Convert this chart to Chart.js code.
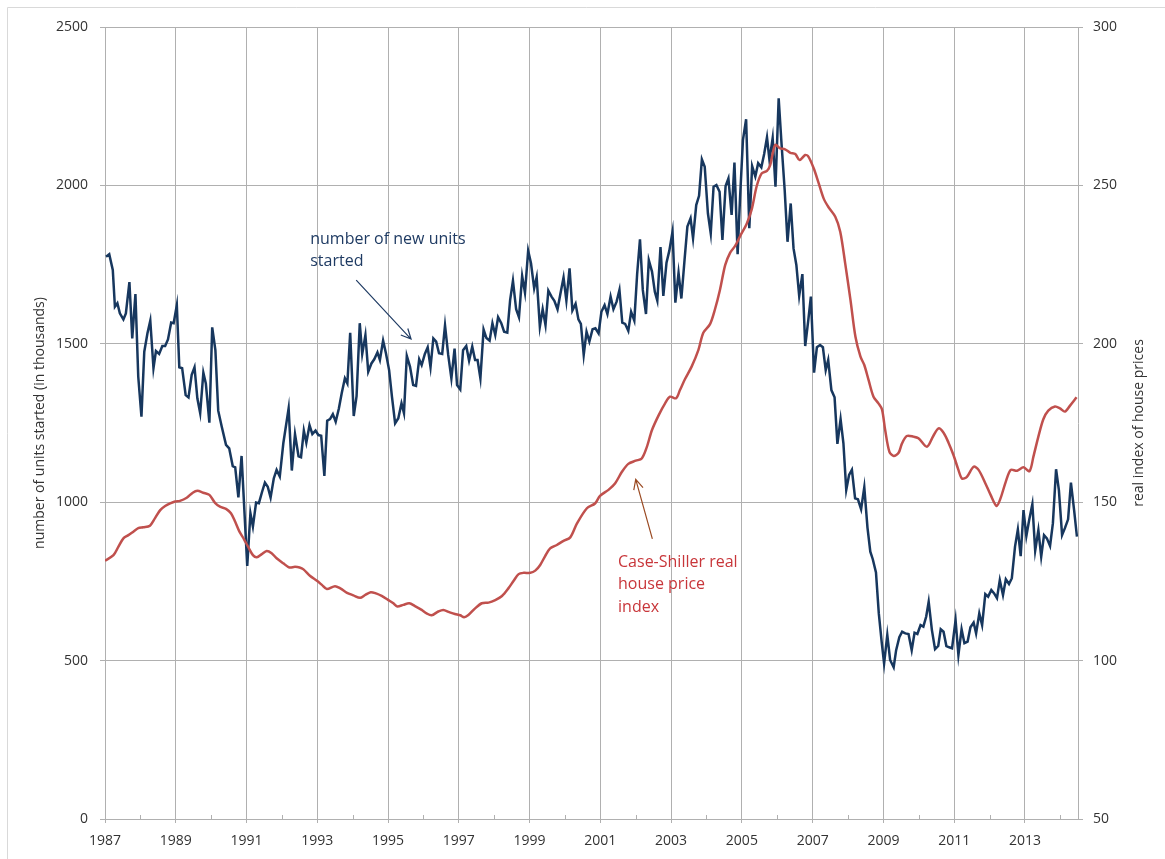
<!DOCTYPE html>
<html>
<head>
<meta charset="utf-8">
<script src="https://cdn.jsdelivr.net/npm/chart.js@4.4.1/dist/chart.umd.min.js"></script>
<style>
  html, body { margin: 0; padding: 0; background: #fff; overflow: hidden; }
  canvas { display: block; }
</style>
</head>
<body>
<canvas id="chart" width="1165" height="859"></canvas>
<script>
// housing starts, thousands of units (roughly monthly)
const startsYears = [
  1987.03,1987.12,1987.22,1987.28,1987.35,1987.42,1987.52,1987.59,1987.69,1987.77,1987.86,1987.94,
  1988.03,1988.11,1988.2,1988.28,1988.37,1988.44,1988.53,1988.62,1988.7,1988.78,1988.87,1988.94,
  1989.03,1989.1,1989.18,1989.28,1989.36,1989.45,1989.53,1989.61,1989.69,1989.78,1989.85,1989.95,
  1990.03,1990.12,1990.2,1990.3,1990.42,1990.51,1990.61,1990.68,1990.77,1990.86,1991.02,
  1991.11,1991.18,1991.27,1991.35,1991.44,1991.52,1991.6,1991.68,1991.77,1991.85,1991.94,
  1992.04,1992.19,1992.28,1992.37,1992.47,1992.54,1992.62,1992.69,1992.78,1992.86,1992.95,
  1993.03,1993.11,1993.2,1993.28,1993.36,1993.44,1993.52,1993.61,1993.69,1993.78,1993.85,1993.93,
  1994.03,1994.11,1994.2,1994.27,1994.36,1994.44,1994.53,1994.61,1994.7,1994.77,1994.86,1994.94,
  1995.03,1995.11,1995.2,1995.29,1995.38,1995.45,1995.53,1995.62,1995.71,1995.79,1995.88,1995.95,
  1996.04,1996.12,1996.2,1996.28,1996.36,1996.44,1996.53,1996.61,1996.7,1996.79,1996.88,1996.95,
  1997.04,1997.12,1997.21,1997.29,1997.38,1997.46,1997.53,1997.61,1997.7,1997.78,1997.87,1997.95,
  1998.03,1998.11,1998.2,1998.28,1998.37,1998.45,1998.53,1998.62,1998.7,1998.79,1998.87,1998.96,
  1999.04,1999.13,1999.2,1999.29,1999.37,1999.45,1999.53,1999.62,1999.7,1999.79,1999.87,1999.96,
  2000.04,2000.13,2000.21,2000.3,2000.38,2000.45,2000.53,2000.61,2000.69,2000.78,2000.86,2000.95,
  2001.03,2001.12,2001.2,2001.29,2001.37,2001.46,2001.54,2001.62,2001.7,2001.79,2001.87,2001.96,
  2002.04,2002.12,2002.2,2002.29,2002.37,2002.46,2002.54,2002.61,2002.7,2002.78,2002.87,2002.95,
  2003.04,2003.12,2003.21,2003.29,2003.38,2003.46,2003.55,2003.62,2003.71,2003.79,2003.87,2003.95,
  2004.04,2004.12,2004.2,2004.28,2004.37,2004.45,2004.54,2004.62,2004.71,2004.79,2004.88,2004.95,
  2005.03,2005.12,2005.21,2005.29,2005.38,2005.46,2005.55,2005.63,2005.71,2005.78,2005.87,2005.95,
  2006.04,2006.12,2006.21,2006.29,2006.38,2006.46,2006.54,2006.62,2006.71,2006.79,2006.88,2006.95,
  2007.04,2007.12,2007.21,2007.29,2007.37,2007.44,2007.53,2007.62,2007.7,2007.79,2007.87,2007.95,
  2008.03,2008.11,2008.2,2008.28,2008.37,2008.46,2008.55,2008.63,2008.7,2008.79,2008.87,2008.95,
  2009.02,2009.11,2009.19,2009.29,2009.36,2009.45,2009.53,2009.62,2009.71,2009.8,2009.88,2009.96,
  2010.05,2010.13,2010.21,2010.28,2010.37,2010.46,2010.55,2010.62,2010.7,2010.78,2010.86,2010.94,
  2011.04,2011.12,2011.21,2011.29,2011.38,2011.46,2011.55,2011.62,2011.71,2011.79,2011.88,2011.96,
  2012.05,2012.13,2012.21,2012.29,2012.38,2012.46,2012.55,2012.63,2012.72,2012.8,2012.88,2012.96,
  2013.04,2013.12,2013.21,2013.29,2013.38,2013.46,2013.54,2013.62,2013.71,2013.79,2013.88,2013.96,
  2014.05,2014.13,2014.22,2014.3,2014.39,2014.47
];
const startsValues = [
  1775,1783,1733,1617,1628,1596,1577,1596,1695,1517,1657,1396,
  1270,1475,1533,1573,1423,1477,1468,1493,1493,1514,1567,1565,
  1622,1426,1423,1338,1331,1402,1426,1328,1281,1409,1375,1251,
  1552,1480,1289,1238,1181,1170,1114,1110,1015,1146,799,
  965,923,999,997,1033,1062,1049,1015,1075,1102,1081,
  1186,1296,1100,1215,1145,1142,1226,1188,1243,1215,1226,
  1212,1210,1083,1257,1262,1278,1254,1296,1344,1391,1375,1535,
  1272,1335,1565,1468,1527,1412,1438,1451,1473,1449,1510,1470,
  1417,1333,1249,1265,1312,1281,1462,1428,1370,1367,1451,1433,
  1468,1489,1426,1517,1507,1470,1468,1558,1465,1391,1485,1370,
  1356,1480,1493,1447,1491,1449,1449,1391,1545,1518,1510,1565,
  1528,1584,1565,1538,1535,1638,1699,1609,1584,1714,1661,1794,
  1754,1675,1710,1554,1609,1559,1668,1649,1636,1609,1657,1709,
  1636,1738,1605,1626,1577,1563,1465,1538,1507,1546,1549,1533,
  1601,1622,1594,1649,1609,1633,1670,1567,1563,1541,1601,1573,
  1720,1830,1670,1594,1764,1728,1664,1636,1805,1651,1756,1794,
  1854,1630,1724,1643,1765,1870,1896,1833,1938,1967,2082,2059,
  1912,1849,1996,2001,1980,1828,1998,2022,1907,2072,1783,1964,
  2143,2209,1865,2061,2028,2070,2057,2099,2152,2080,2149,1996,
  2275,2133,1985,1822,1943,1801,1749,1651,1720,1493,1577,1649,
  1409,1489,1496,1489,1417,1449,1354,1331,1184,1262,1186,1039,
  1086,1102,1012,1009,978,1047,920,844,820,778,649,560,
  491,581,502,479,533,574,591,586,584,533,588,584,
  612,607,639,686,597,536,546,599,591,546,542,539,
  628,518,599,555,560,605,620,586,649,612,710,702,
  723,712,697,754,707,757,742,760,860,914,830,975,
  893,944,994,847,912,828,896,886,862,933,1104,1038,
  896,918,946,1062,975,891
];

// Case-Shiller real house price index (right axis)
const priceYears = [
  1987.0,1987.24,1987.38,1987.52,1987.66,1987.8,1987.94,1988.08,1988.27,1988.41,1988.56,1988.7,1988.84,1988.98,
  1989.12,1989.31,1989.48,1989.61,1989.78,1989.95,1990.11,1990.25,1990.42,1990.56,1990.68,1990.8,1990.93,
  1991.05,1991.18,1991.29,1991.43,1991.57,1991.71,1991.85,1992.04,1992.21,1992.37,1992.5,1992.61,1992.8,1992.99,
  1993.13,1993.27,1993.5,1993.65,1993.84,1994.02,1994.21,1994.35,1994.51,1994.66,1994.82,1995.01,1995.15,1995.26,
  1995.43,1995.6,1995.76,1995.95,1996.09,1996.23,1996.42,1996.56,1996.73,1996.89,1997.04,1997.15,1997.27,1997.46,
  1997.65,1997.84,1998.03,1998.22,1998.4,1998.55,1998.69,1998.83,1999.02,1999.16,1999.3,1999.44,1999.58,1999.77,
  1999.96,2000.15,2000.34,2000.62,2000.85,2000.99,2001.23,2001.42,2001.61,2001.79,2002.0,2002.17,2002.31,2002.46,
  2002.65,2002.83,2002.97,2003.14,2003.25,2003.39,2003.58,2003.77,2003.91,2004.1,2004.24,2004.38,2004.53,2004.67,
  2004.81,2004.95,2005.14,2005.28,2005.42,2005.56,2005.71,2005.8,2005.94,2006.08,2006.22,2006.37,2006.51,2006.63,
  2006.79,2006.88,2007.03,2007.17,2007.31,2007.45,2007.64,2007.78,2007.92,2008.07,2008.21,2008.35,2008.46,2008.58,
  2008.72,2008.86,2008.96,2009.05,2009.17,2009.29,2009.43,2009.52,2009.66,2009.85,2009.99,2010.23,2010.41,2010.56,
  2010.7,2010.84,2010.98,2011.12,2011.22,2011.36,2011.55,2011.69,2011.88,2012.03,2012.2,2012.31,2012.46,2012.6,
  2012.78,2012.96,2013.13,2013.24,2013.38,2013.52,2013.66,2013.85,2013.99,2014.13,2014.27,2014.46
];
const priceValues = [
  131.5,133.3,136,138.6,139.6,140.7,141.8,142.1,142.6,144.9,147.5,148.8,149.6,150.2,
  150.4,151.4,153,153.6,153,152.3,149.8,148.6,147.9,146.5,143.8,140.7,138.3,
  135.8,133.3,132.6,133.6,134.6,133.9,132.3,130.7,129.4,129.6,129.4,128.8,126.7,125.2,
  123.9,122.6,123.5,122.8,121.4,120.6,119.8,120.7,121.6,121.2,120.4,119.1,118.1,117.1,
  117.6,118.1,117.2,116,114.9,114.3,115.5,116,115.3,114.7,114.3,113.7,114.4,116.5,
  118.1,118.3,119.1,120.4,122.8,125.2,127.3,127.7,127.7,128.4,130.2,133,135.4,136.5,
  137.8,138.9,143.3,148.1,149.6,152,153.9,156,159.6,162.1,163.1,163.8,167.3,172.8,
  177.5,181.2,183.3,182.8,185.4,188.8,192.8,198,203.5,206.2,210.9,217,224.9,228.8,
  230.9,234,238,242.5,249.8,253.8,254.6,256.4,262.8,261.7,261.4,260.3,259.9,258,
  259.6,259.1,255.4,250.7,245.9,243.1,240.1,235.4,225.4,213.8,202.2,196,193.3,188.6,
  183.3,181.2,179.3,172.8,165.9,164.6,165.6,168.4,170.9,170.7,170.2,167.5,170.9,173.3,
  171.9,168.8,164.9,160.2,157.5,158,161.2,160.2,156,152.3,148.8,151.2,156.5,160.2,
  159.9,161,159.8,164.4,170.7,176.2,178.9,180.2,179.6,178.6,180.4,183.1
];

const leftTicks = [0, 500, 1000, 1500, 2000, 2500];
const rightTicks = [50, 100, 150, 200, 250, 300];

let blue = '#17375E';
let red = '#C0504D';
let gridColor = '#b0b0b0';
let textColor = '#333333';
let font = { family: 'Open Sans', size: 14 };

function toPoints(xs, ys) {
    let pts = [];
    for (var i = 0; i < xs.length; i++) {
        pts.push({ x: xs[i], y: ys[i] });
    }
    return pts;
}

function arrow(c, x1, y1, x2, y2, color) {
    c.save();
    c.strokeStyle = color;
    c.lineWidth = 1.2;
    c.beginPath();
    c.moveTo(x1, y1);
    c.lineTo(x2, y2);
    let a = Math.atan2(y2 - y1, x2 - x1);
    let len = 11;
    c.moveTo(x2 - len * Math.cos(a - 0.45), y2 - len * Math.sin(a - 0.45));
    c.lineTo(x2, y2);
    c.lineTo(x2 - len * Math.cos(a + 0.45), y2 - len * Math.sin(a + 0.45));
    c.stroke();
    c.restore();
}

// frame, minor ticks, axis titles and the two callouts
const extras = {
    id: 'extras',
    beforeDraw(chart) {
        let c = chart.ctx;
        c.save();
        c.strokeStyle = '#d9d9d9';
        c.lineWidth = 1;
        c.beginPath();
        c.moveTo(7.5, 859);
        c.lineTo(7.5, 7.5);
        c.lineTo(1165, 7.5);
        c.stroke();
        c.restore();
    },
    afterDraw(chart) {
        let c = chart.ctx;
        let x = chart.scales.x, y = chart.scales.y, y1 = chart.scales.y1;
        let bottom = chart.chartArea.bottom;
        c.save();
        c.strokeStyle = gridColor;
        c.lineWidth = 1;
        for (var yr = 1988; yr <= 2014; yr += 2) {
            let px = Math.round(x.getPixelForValue(yr)) + 0.5;
            c.beginPath();
            c.moveTo(px, bottom);
            c.lineTo(px, bottom - 4);
            c.stroke();
        }
        c.fillStyle = textColor;
        c.font = '14px "Open Sans"';
        c.textAlign = 'center';
        c.textBaseline = 'middle';
        let midY = (chart.chartArea.top + bottom) / 2;
        c.save();
        c.translate(40, midY);
        c.rotate(-Math.PI / 2);
        c.fillText('number of units started (in thousands)', 0, 0);
        c.restore();
        c.save();
        c.translate(1139, midY);
        c.rotate(-Math.PI / 2);
        c.fillText('real index of house prices', 0, 0);
        c.restore();

        c.font = '16px "Open Sans"';
        c.textAlign = 'left';
        c.textBaseline = 'alphabetic';
        c.fillStyle = '#1F3B63';
        let tx = x.getPixelForValue(1992.8);
        c.fillText('number of new units', tx, y.getPixelForValue(1815));
        c.fillText('started', tx, y.getPixelForValue(1745));
        arrow(c, x.getPixelForValue(1994.1), y.getPixelForValue(1701),
              x.getPixelForValue(1995.65), y.getPixelForValue(1515), '#1F3B63');

        c.fillStyle = '#C8363A';
        let rx = x.getPixelForValue(2001.5);
        c.fillText('Case-Shiller real', rx, y1.getPixelForValue(129.6));
        c.fillText('house price', rx, y1.getPixelForValue(122.6));
        c.fillText('index', rx, y1.getPixelForValue(115.4));
        arrow(c, x.getPixelForValue(2002.47), y1.getPixelForValue(138.4),
              x.getPixelForValue(2002.0), y1.getPixelForValue(157.2), '#9A4A22');
        c.restore();
    }
};

let ctx = document.getElementById('chart').getContext('2d');

let chart = new Chart(ctx, {
    type: 'line',
    data: {
        datasets: [{
            label: 'Case-Shiller real house price index',
            data: toPoints(priceYears, priceValues),
            yAxisID: 'y1',
            borderColor: red,
            borderWidth: 2.5,
            pointRadius: 0,
            tension: 0.3,
            order: 0
        }, {
            label: 'number of new units started',
            data: toPoints(startsYears, startsValues),
            yAxisID: 'y',
            borderColor: blue,
            borderWidth: 2.5,
            pointRadius: 0,
            tension: 0,
            order: 1
        }]
    },
    options: {
        responsive: false,
        animation: false,
        layout: { padding: { top: 27, left: 0, right: 0, bottom: 0 } },
        plugins: { legend: { display: false }, tooltip: { enabled: false } },
        scales: {
            x: {
                type: 'linear',
                min: 1987,
                max: 2014.5,
                afterFit: function (s) { s.height = 40; },
                ticks: {
                    stepSize: 1,
                    includeBounds: false,
                    autoSkip: false,
                    maxRotation: 0,
                    padding: 10,
                    color: textColor,
                    font: font,
                    callback: function (v) { return v % 2 === 1 ? String(v) : ''; }
                },
                grid: {
                    tickLength: 4,
                    color: function (c) {
                        return (c.tick && c.tick.value % 2 === 1) ? gridColor : 'rgba(0,0,0,0)';
                    }
                },
                border: { color: gridColor }
            },
            y: {
                position: 'left',
                min: 0,
                max: 2500,
                afterFit: function (s) { s.width = 105; },
                afterBuildTicks: function (s) { s.ticks = leftTicks.map(v => ({ value: v })); },
                ticks: { padding: 12, color: textColor, font: font, callback: v => String(v) },
                grid: { color: gridColor, tickLength: 5 },
                border: { color: gridColor }
            },
            y1: {
                position: 'right',
                min: 50,
                max: 300,
                afterFit: function (s) { s.width = 87; },
                afterBuildTicks: function (s) { s.ticks = rightTicks.map(v => ({ value: v })); },
                ticks: { padding: 10, color: textColor, font: font, callback: v => String(v) },
                grid: { drawOnChartArea: false, color: gridColor, tickLength: 5 },
                border: { color: gridColor }
            }
        }
    },
    plugins: [extras]
});
</script>
</body>
</html>
